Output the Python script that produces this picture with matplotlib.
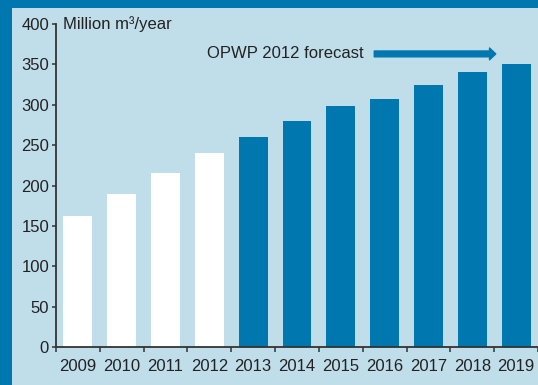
import matplotlib.pyplot as plt
from matplotlib.patches import Rectangle, FancyArrowPatch
import numpy as np

plt.rcParams['font.family'] = ['Liberation Sans', 'DejaVu Sans']

# desalinated water demand, actual (2009-2012) and forecast (2013-2019)
years = ["2009", "2010", "2011", "2012", "2013", "2014",
         "2015", "2016", "2017", "2018", "2019"]
values = [162, 190, 216, 241, 260, 280, 298, 307, 325, 340, 350]
n_actual = 4

DARK = "#0077ae"
LIGHT = "#c0ddea"
INK = "#222222"

fig = plt.figure(figsize=(5.38, 3.85), dpi=100, facecolor=DARK)
# light panel inside the dark frame
fig.patches.append(Rectangle((12 / 538, 0), 1, 1 - 8 / 385,
                             transform=fig.transFigure, facecolor=LIGHT,
                             edgecolor="none", zorder=-1))

ax = fig.add_axes([56 / 538, 37.7 / 385, 1 - 56 / 538, 323.3 / 385])
ax.set_facecolor("none")

x = np.arange(len(years))
colors = ["white"] * n_actual + [DARK] * (len(years) - n_actual)
ax.bar(x, values, width=0.66, color=colors, edgecolor="none", zorder=2)

ax.set_xlim(-0.5, len(years) - 0.5)
ax.set_ylim(0, 400)

for s in ("top", "right"):
    ax.spines[s].set_visible(False)
for s in ("left", "bottom"):
    ax.spines[s].set_color("#333333")
    ax.spines[s].set_linewidth(1.3)

ax.set_yticks(range(0, 401, 50))
ax.tick_params(axis="y", length=3, width=1.1, color="#333333", pad=2,
               labelsize=12, labelcolor=INK)

# tick marks between the bars, labels under the bar centres
ax.set_xticks(np.arange(-0.5, len(years) + 0.5, 1))
ax.set_xticklabels([])
ax.set_xticks(x, minor=True)
ax.set_xticklabels(years, minor=True)
ax.tick_params(axis="x", which="major", length=3.5, width=1.1,
               color="#333333")
ax.tick_params(axis="x", which="minor", length=0, pad=8.5, labelsize=12,
               labelcolor=INK)
for t in ax.xaxis.get_major_ticks():
    t.tick1line.set_clip_on(False)

ax.text(-0.33, 400, "Million m\u00b3/year", fontsize=12,
        color=INK, ha="left", va="center")

ax.text(6.52, 363, "OPWP 2012 forecast", fontsize=12, color=INK,
        ha="right", va="center")
arrow = FancyArrowPatch((6.7, 363), (9.6, 363),
                        arrowstyle="simple,head_length=0.45,head_width=0.85,tail_width=0.42",
                        mutation_scale=10, color=DARK, zorder=3)
ax.add_patch(arrow)

fig.savefig("out.png", dpi=100, facecolor=fig.get_facecolor())
